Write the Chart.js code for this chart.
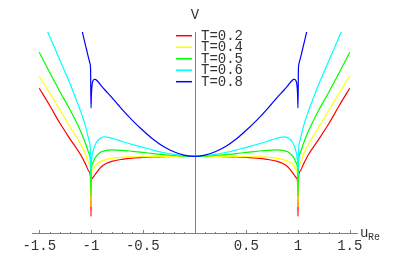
<!DOCTYPE html>
<html><head><meta charset="utf-8">
<script src="https://cdn.jsdelivr.net/npm/chart.js@4"></script>
<style>html,body{margin:0;padding:0;background:#fff;overflow:hidden}</style>
</head><body>
<canvas id="c" width="415" height="257" style="display:block;width:415px;height:257px"></canvas>
<script>
// ---- data (V in arbitrary units, V(0)=0) ----
const seriesLabels = ["T=0.2", "T=0.4", "T=0.5", "T=0.6", "T=0.8"];
const seriesColors = ["#ff0000", "#ffff00", "#00ff00", "#00ffff", "#0000ff"];

const uRed = [-1.5,-1.4,-1.3,-1.2,-1.1,-1.05,-1.02,-1.005,-1.0,-0.995,-0.98,-0.964,-0.93,-0.9,-0.85,-0.8,-0.7,-0.6,-0.5,-0.4,-0.3,-0.2,-0.1,0,
              0.1,0.2,0.3,0.4,0.5,0.6,0.7,0.8,0.85,0.9,0.93,0.964,0.98,0.995,1.0,1.005,1.02,1.05,1.1,1.2,1.3,1.4,1.5];
const vRed = [0.68,0.51,0.33,0.17,0.015,-0.085,-0.15,-0.21,-0.60,-0.24,-0.21,-0.187,-0.14,-0.104,-0.07,-0.05,-0.03,-0.018,-0.012,-0.007,-0.004,-0.002,-0.001,0,
              -0.001,-0.002,-0.004,-0.007,-0.012,-0.018,-0.03,-0.05,-0.07,-0.104,-0.14,-0.187,-0.21,-0.24,-0.60,-0.21,-0.15,-0.085,0.015,0.17,0.33,0.51,0.68];

const uYellow = [-1.5,-1.4,-1.3,-1.2,-1.1,-1.05,-1.02,-1.005,-1.0,-0.995,-0.98,-0.96,-0.93,-0.9,-0.85,-0.8,-0.7,-0.6,-0.5,-0.4,-0.3,-0.2,-0.1,0,
                 0.1,0.2,0.3,0.4,0.5,0.6,0.7,0.8,0.85,0.9,0.93,0.96,0.98,0.995,1.0,1.005,1.02,1.05,1.1,1.2,1.3,1.4,1.5];
const vYellow = [0.80,0.635,0.463,0.29,0.12,0.015,-0.07,-0.15,-0.507,-0.18,-0.13,-0.095,-0.068,-0.048,-0.03,-0.02,-0.008,-0.005,-0.004,-0.003,-0.002,-0.001,0,0,
                 0,-0.001,-0.002,-0.003,-0.004,-0.005,-0.008,-0.02,-0.03,-0.048,-0.068,-0.095,-0.13,-0.18,-0.507,-0.15,-0.07,0.015,0.12,0.29,0.463,0.635,0.80];

const uGreen = [-1.5,-1.4,-1.3,-1.2,-1.1,-1.05,-1.02,-1.005,-1.0,-0.995,-0.98,-0.96,-0.93,-0.9,-0.85,-0.8,-0.7,-0.6,-0.5,-0.4,-0.3,-0.2,-0.1,0,
                0.1,0.2,0.3,0.4,0.5,0.6,0.7,0.8,0.85,0.9,0.93,0.96,0.98,0.995,1.0,1.005,1.02,1.05,1.1,1.2,1.3,1.4,1.5];
const vGreen = [1.04,0.84,0.646,0.46,0.25,0.12,0.03,-0.06,-0.397,-0.12,-0.06,-0.015,0.022,0.045,0.06,0.064,0.06,0.05,0.039,0.027,0.016,0.008,0.002,0,
                0.002,0.008,0.016,0.027,0.039,0.05,0.06,0.064,0.06,0.045,0.022,-0.015,-0.06,-0.12,-0.397,-0.06,0.03,0.12,0.25,0.46,0.646,0.84,1.04];

const uCyan = [-1.5,-1.45,-1.4,-1.35,-1.3,-1.25,-1.2,-1.15,-1.1,-1.05,-1.02,-1.005,-1.0,-0.997,-0.99,-0.98,-0.965,-0.95,-0.93,-0.9,-0.87,-0.83,-0.78,-0.7,-0.6,-0.5,-0.4,-0.3,-0.2,-0.1,0,
               0.1,0.2,0.3,0.4,0.5,0.6,0.7,0.78,0.83,0.87,0.9,0.93,0.95,0.965,0.98,0.99,0.997,1.0,1.005,1.02,1.05,1.1,1.15,1.2,1.25,1.3,1.35,1.4,1.45,1.5];
const vCyan = [1.43,1.32,1.2,1.08,0.96,0.84,0.72,0.585,0.45,0.29,0.16,0.05,-0.2,-0.08,0.0,0.05,0.1,0.135,0.163,0.186,0.195,0.19,0.175,0.148,0.118,0.09,0.062,0.038,0.02,0.007,0,
               0.007,0.02,0.038,0.062,0.09,0.118,0.148,0.175,0.19,0.195,0.186,0.163,0.135,0.1,0.05,0.0,-0.08,-0.2,0.05,0.16,0.29,0.45,0.585,0.72,0.84,0.96,1.08,1.2,1.32,1.43];

const uBlue = [-1.5,-1.4,-1.3,-1.2,-1.15,-1.1,-1.084,-1.06,-1.042,-1.025,-1.01,-1.004,-1.0,-0.996,-0.99,-0.98,-0.97,-0.96,-0.94,-0.9,-0.865,-0.8,-0.736,-0.7,-0.6,-0.5,-0.4,-0.3,-0.2,-0.1,0,
               0.1,0.2,0.3,0.4,0.5,0.6,0.7,0.736,0.8,0.865,0.9,0.94,0.96,0.97,0.98,0.99,0.996,1.0,1.004,1.01,1.025,1.042,1.06,1.084,1.1,1.15,1.2,1.3,1.4,1.5];
const vBlue = [3.5,2.9,2.35,1.85,1.58,1.33,1.246,1.14,1.063,0.99,0.93,0.87,0.483,0.62,0.71,0.755,0.768,0.77,0.755,0.705,0.663,0.59,0.513,0.47,0.36,0.26,0.17,0.097,0.045,0.012,0,
               0.012,0.045,0.097,0.17,0.26,0.36,0.47,0.513,0.59,0.663,0.705,0.755,0.77,0.768,0.755,0.71,0.62,0.483,0.87,0.93,0.99,1.063,1.14,1.246,1.33,1.58,1.85,2.35,2.9,3.5];

const xTickValues = [-1.5, -1, -0.5, 0.5, 1, 1.5];
const xTickLabels = ["-1.5", "-1", "-0.5", "0.5", "1", "1.5"];
const xMinorTicks = [-1.5,-1.4,-1.3,-1.2,-1.1,-1.0,-0.9,-0.8,-0.7,-0.6,-0.5,-0.4,-0.3,-0.2,-0.1,
                     0.1,0.2,0.3,0.4,0.5,0.6,0.7,0.8,0.9,1.0,1.1,1.2,1.3,1.4,1.5];
const xAxisTitle = "u";
const xAxisTitleSub = "Re";
const yAxisTitle = "V";
const xRange = [-1.57, 1.57];
const yRange = [-0.772, 1.243];
// ---------------------------------------------------------------------------

const uSets = [uRed, uYellow, uGreen, uCyan, uBlue];
const vSets = [vRed, vYellow, vGreen, vCyan, vBlue];

const FONT = "'Liberation Mono', 'DejaVu Sans Mono', monospace";
const AXIS = "#808080";
const TEXT = "#333";

const overlay = {
  id: 'overlay',
  beforeDatasetsDraw(chart) {
    const {ctx, chartArea: a, scales: {x}} = chart;
    ctx.save();
    ctx.strokeStyle = AXIS;
    ctx.lineWidth = 1;
    ctx.beginPath();
    const x0 = Math.round(x.getPixelForValue(0)) + 0.5;
    ctx.moveTo(x0, a.top);
    ctx.lineTo(x0, a.bottom);
    ctx.stroke();
    // inward tick marks on the u axis
    ctx.beginPath();
    const yb = Math.round(a.bottom);
    xMinorTicks.forEach(v => {
      const px = Math.round(x.getPixelForValue(v)) + 0.5;
      const len = xTickValues.some(t => Math.abs(t - v) < 1e-9) ? 4 : 2;
      ctx.moveTo(px, yb);
      ctx.lineTo(px, yb - len);
    });
    ctx.stroke();
    ctx.restore();
  },
  afterDraw(chart) {
    const {ctx, chartArea: a, scales: {x}} = chart;
    ctx.save();
    ctx.fillStyle = TEXT;
    ctx.textBaseline = 'middle';
    ctx.font = "14px " + FONT;
    // V label above the vertical axis
    ctx.textAlign = 'center';
    ctx.fillText(yAxisTitle, x.getPixelForValue(0) + 0.5, 15);
    // u_Re label at right end of the horizontal axis
    ctx.textAlign = 'left';
    ctx.textBaseline = 'alphabetic';
    ctx.fillText(xAxisTitle, a.right + 3, 237);
    ctx.font = "10px " + FONT;
    ctx.fillText(xAxisTitleSub, a.right + 11, 240);
    // legend
    ctx.font = "14px " + FONT;
    ctx.textBaseline = 'middle';
    chart.data.datasets.forEach((ds, i) => {
      const yy = 35.7 + i * 11.5;
      ctx.strokeStyle = ds.borderColor;
      ctx.lineWidth = 1.5;
      ctx.beginPath();
      ctx.moveTo(176, yy);
      ctx.lineTo(192, yy);
      ctx.stroke();
      ctx.fillStyle = TEXT;
      ctx.fillText(ds.label, 201, yy + 0.5);
    });
    ctx.restore();
  }
};

new Chart(document.getElementById('c'), {
  type: 'line',
  data: {
    datasets: seriesLabels.map((lab, i) => ({
      label: lab,
      data: uSets[i].map((u, k) => ({x: u, y: vSets[i][k]})),
      borderColor: seriesColors[i],
      backgroundColor: seriesColors[i],
      borderWidth: 1.2,
      pointRadius: 0,
      fill: false,
      cubicInterpolationMode: 'monotone',
      order: seriesLabels.length - i
    }))
  },
  options: {
    responsive: false,
    animation: false,
    devicePixelRatio: 1,
    layout: {padding: {left: 32, right: 58, top: 32, bottom: 0}},
    plugins: {legend: {display: false}, tooltip: {enabled: false}, title: {display: false}},
    scales: {
      x: {
        type: 'linear',
        min: xRange[0], max: xRange[1],
        grid: {display: false, drawTicks: false},
        border: {display: true, color: AXIS, width: 1},
        afterBuildTicks: s => { s.ticks = xTickValues.map(v => ({value: v})); },
        afterFit: s => { s.height = 23.5; },
        ticks: {
          autoSkip: false, maxRotation: 0, padding: 4,
          color: TEXT,
          font: {family: FONT, size: 14},
          callback: (v) => { const k = xTickValues.findIndex(t => Math.abs(t - v) < 1e-9); return k >= 0 ? xTickLabels[k] : ''; }
        }
      },
      y: {
        type: 'linear', display: false,
        min: yRange[0], max: yRange[1]
      }
    }
  },
  plugins: [overlay]
});
</script>
</body></html>
